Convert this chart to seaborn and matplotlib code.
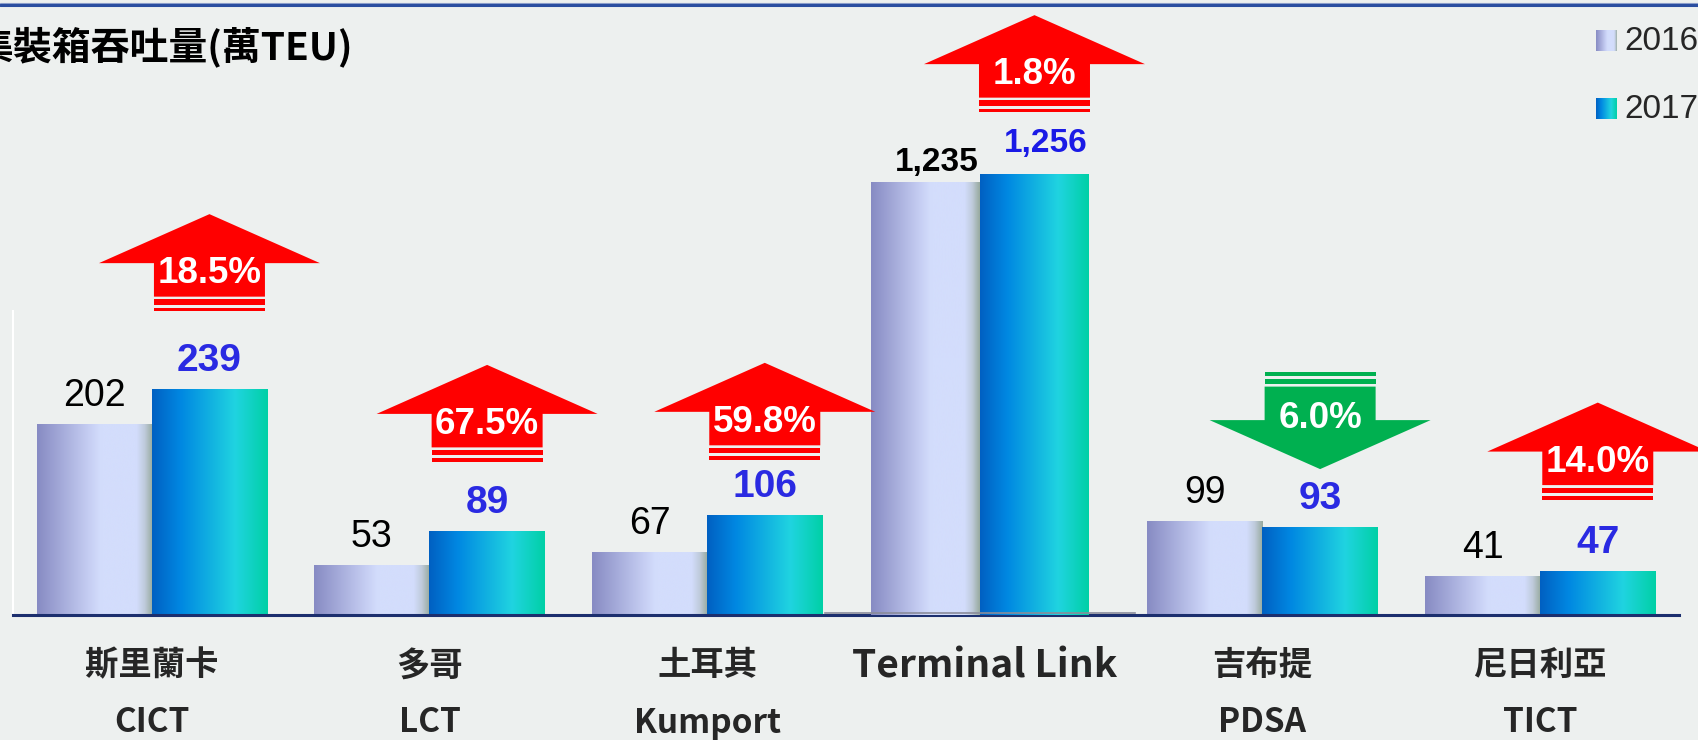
import numpy as np
import pandas as pd
import matplotlib.pyplot as plt
import matplotlib.transforms as mtransforms
from matplotlib.patches import Polygon, Rectangle
from matplotlib.colors import LinearSegmentedColormap
import seaborn as sns

# data
ports = ['斯里蘭卡', '多哥', '土耳其', 'Terminal Link', '吉布提', '尼日利亞']
codes = ['CICT', 'LCT', 'Kumport', '', 'PDSA', 'TICT']
years = ['2016', '2017']
teu_2016 = [202, 53, 67, 1235, 99, 41]
teu_2017 = [239, 89, 106, 1256, 93, 47]
growth = [18.5, 67.5, 59.8, 1.8, -6.0, 14.0]
BIG = 'Terminal Link'

# layout: gap in pixels between 2017 bar top and arrow
arrow_gap = [78, 69, 55, 62, 58, 71]
tl_label_gap = [11, 22]

W, H, DPI = 1698, 740, 100
BG = '#edf0ef'
CJK = ['Noto Sans CJK TC', 'DejaVu Sans']

sns.set_style('white')
plt.rcParams['font.family'] = ['Liberation Sans', 'Noto Sans CJK TC', 'DejaVu Sans']

df = pd.DataFrame({
    'port': ports * 2,
    'year': ['2016'] * len(ports) + ['2017'] * len(ports),
    'teu': teu_2016 + teu_2017,
})

cmap16 = LinearSegmentedColormap.from_list('c16', [
    (0.0, '#878bc3'), (0.45, '#c6cef3'), (0.55, '#d3ddfc'),
    (0.86, '#d3ddfc'), (0.93, '#bfcbdc'), (1.0, '#98aa9e')])
cmap17 = LinearSegmentedColormap.from_list('c17', [
    (0.0, '#0060c2'), (0.25, '#0088e2'), (0.72, '#20d4e0'), (1.0, '#00d0a6')])
cmaps = [cmap16, cmap17]
grad = np.linspace(0, 1, 256).reshape(1, -1)

fig = plt.figure(figsize=(W / DPI, H / DPI), dpi=DPI, facecolor=BG)


def px_axes(left, top, right, bottom):
    return fig.add_axes([left / W, 1 - bottom / H, (right - left) / W, (bottom - top) / H])


ax = px_axes(13, 311, 1679, 615)
tl_ax = px_axes(825, 0, 1135, 615)

sns.barplot(data=df[df['port'] != BIG], x='port', y='teu', hue='year',
            order=ports, hue_order=years, width=0.83, saturation=1,
            legend=False, ax=ax)
sns.barplot(data=df[df['port'] == BIG], x='port', y='teu', hue='year',
            hue_order=years, width=0.703, saturation=1, legend=False, ax=tl_ax)


def fill_gradient(a, bar, cmap):
    x0, w, h = bar.get_x(), bar.get_width(), bar.get_height()
    im = a.imshow(grad, cmap=cmap, extent=(x0, x0 + w, 0, h), aspect='auto',
                  origin='lower', interpolation='bicubic', zorder=2)
    im.set_clip_path(bar)
    bar.set_facecolor('none')
    bar.set_edgecolor('none')


for a in (ax, tl_ax):
    for cont, cmap in zip(a.containers, cmaps):
        for bar in cont:
            fill_gradient(a, bar, cmap)

ax.set_xlim(-0.5, 5.5)
ax.set_ylim(0, 304 / 0.945)
tl_ax.set_xlim(-0.5, 0.5)
tl_ax.set_ylim(0, 615 / 0.351)

for a in (ax, tl_ax):
    a.set_facecolor('none')
    a.set_xlabel('')
    a.set_ylabel('')
    a.set_xticks([])
    a.set_yticks([])
    for s in a.spines.values():
        s.set_visible(False)
ax.spines['bottom'].set_visible(True)
ax.spines['bottom'].set_color('#1c2f6e')
ax.spines['bottom'].set_linewidth(2.2)
ax.spines['left'].set_visible(True)
ax.spines['left'].set_color('white')
ax.spines['left'].set_linewidth(1.5)
tl_ax.spines['bottom'].set_visible(True)
tl_ax.spines['bottom'].set_color('#8a8c9a')
tl_ax.spines['bottom'].set_linewidth(1.2)
tl_ax.spines['bottom'].set_position(('outward', -1.8))

# value labels on the five smaller ports
for year, cont in zip(years, ax.containers):
    for bar in cont:
        x = bar.get_x() + bar.get_width() / 2
        h = bar.get_height()
        if year == '2016':
            kw = dict(color='black', fontsize=27, weight='normal')
        else:
            kw = dict(color='#2a2ae2', fontsize=28, weight='bold')
        ax.annotate(f'{h:,.0f}', (x, h), xytext=(0, 18 * 0.72),
                    textcoords='offset points', ha='center', va='baseline', **kw)

# value labels on Terminal Link
for year, cont, gap in zip(years, tl_ax.containers, tl_label_gap):
    bar = cont[0]
    x = bar.get_x() + bar.get_width() / 2
    h = bar.get_height()
    tl_ax.annotate(f'{h:,.0f}', (x, h), xytext=(11 * 0.72, gap * 0.72),
                   textcoords='offset points', ha='center', va='baseline',
                   fontsize=24, weight='bold',
                   color='black' if year == '2016' else '#1a1ae6')


# growth arrows
def draw_arrow(a, bar, pct, gap):
    x = bar.get_x() + bar.get_width() / 2
    y = bar.get_height()
    trans = mtransforms.ScaledTranslation(x, y, a.transData)
    shaft, head = 55.5, 110.5
    if pct > 0:
        color = '#ff0000'
        y0 = gap
        body = [(-shaft, y0 + 14.5), (shaft, y0 + 14.5), (shaft, y0 + 48),
                (head, y0 + 48), (0, y0 + 97), (-head, y0 + 48), (-shaft, y0 + 48)]
        stripes = [(y0 + 6.5, y0 + 12), (y0, y0 + 3.5)]
        text_y = y0 + 28
    else:
        color = '#00b050'
        y0 = gap
        body = [(0, y0), (head, y0 + 49), (shaft, y0 + 49), (shaft, y0 + 82.5),
                (-shaft, y0 + 82.5), (-shaft, y0 + 49), (-head, y0 + 49)]
        stripes = [(y0 + 85, y0 + 90.5), (y0 + 93.5, y0 + 97)]
        text_y = y0 + 41
    fig.add_artist(Polygon(body, closed=True, transform=trans, fc=color, ec='none'))
    for s0, s1 in stripes:
        fig.add_artist(Rectangle((-shaft, s0), 2 * shaft, s1 - s0, transform=trans,
                                 fc=color, ec='none'))
    fig.text(0, text_y, f'{abs(pct):.1f}%', transform=trans, ha='center',
             va='baseline', color='white', fontsize=26.5, weight='bold')


for bar in ax.containers[1]:
    i = int(round(bar.get_x() + bar.get_width() / 2))
    draw_arrow(ax, bar, growth[i], arrow_gap[i])
big_i = ports.index(BIG)
draw_arrow(tl_ax, tl_ax.containers[1][0], growth[big_i], arrow_gap[big_i])

# category labels (two rows)
lab_trans = mtransforms.blended_transform_factory(ax.transData, fig.transFigure)
for i, (name, code) in enumerate(zip(ports, codes)):
    ax.text(i, 1 - 666 / H, name, transform=lab_trans, ha='center', va='center',
            fontsize=28 if name == BIG else 24, weight='heavy', family=CJK)
    if code:
        ax.text(i, 1 - 723 / H, code, transform=lab_trans, ha='center', va='center',
                fontsize=24, weight='heavy', family=CJK)

# title
fig.text(-26 / W, 1 - 47 / H, '集裝箱吞吐量(萬TEU)', ha='left', va='center',
         fontsize=28, weight='heavy', color='black', family=CJK)

# legend with gradient swatches
for yr, cmap, top in zip(years, cmaps, [30, 98]):
    sw = px_axes(1596, top, 1617, top + 21)
    sw.imshow(grad, cmap=cmap, aspect='auto', extent=(0, 1, 0, 1), interpolation='bicubic')
    sw.axis('off')
    fig.text(1624 / W, 1 - (top + 11) / H, yr, ha='left', va='center', fontsize=24)

# top border
fig.add_artist(plt.Line2D([0, 1], [1 - 3 / H, 1 - 3 / H], transform=fig.transFigure,
                          color='#8ea0cc', lw=0.8))
fig.add_artist(plt.Line2D([0, 1], [1 - 5.3 / H, 1 - 5.3 / H], transform=fig.transFigure,
                          color='#2b4ea0', lw=2.2))

fig.savefig('out.png', dpi=DPI, facecolor=BG)
